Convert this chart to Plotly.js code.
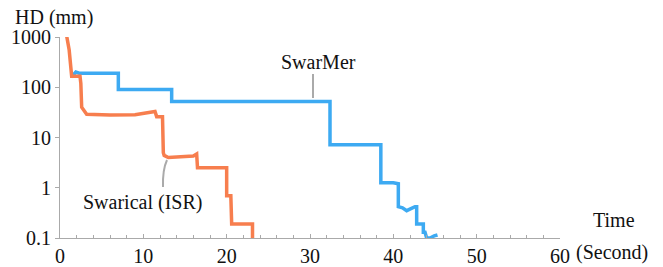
<!DOCTYPE html>
<html>
<head>
<meta charset="utf-8">
<script src="https://cdn.plot.ly/plotly-3.0.1.min.js"></script>
<style>
html,body{margin:0;padding:0;background:#fff;}
#chart{position:absolute;left:0;top:0;width:663px;height:267px;}
#ytitle{position:absolute;left:15px;top:6px;z-index:10;font-family:'Liberation Serif';font-size:20px;line-height:22px;color:#111;white-space:nowrap;}
</style>
</head>
<body>
<div id="chart"></div>
<div id="ytitle">HD (mm)</div>
<script>
// SwarMer (blue)
const swarmerTime = [1.4, 1.9, 2.3, 7.0, 7.0, 13.4, 13.4, 32.4, 32.4, 38.5, 38.5, 40.0, 40.6, 40.6, 41.1, 41.6, 42.6, 42.8, 42.8, 43.6, 43.6, 43.8, 44.0, 44.4, 44.9, 45.3];
const swarmerHD   = [160, 200, 190, 190, 90, 90, 52, 52, 7.2, 7.2, 1.26, 1.26, 1.2, 0.42, 0.40, 0.35, 0.42, 0.42, 0.19, 0.19, 0.13, 0.13, 0.1, 0.1, 0.11, 0.115];
// Swarical (ISR) (orange)
const swaricalTime = [0.8, 1.1, 1.4, 2.4, 2.5, 2.6, 3.2, 6.0, 9.0, 11.4, 11.6, 12.3, 12.4, 12.5, 13.0, 14.5, 16.0, 16.4, 16.5, 20.0, 20.0, 20.5, 20.6, 23.1, 23.1];
const swaricalHD   = [1050, 550, 166, 166, 120, 40, 29, 28, 28.5, 33, 26, 26, 5.0, 4.4, 4.0, 4.2, 4.3, 4.7, 2.5, 2.5, 0.69, 0.69, 0.19, 0.19, 0.1];
const yTickVals = [0.1, 1, 10, 100, 1000];
const yTickText = ['0.1', '1', '10', '100', '1000'];
const xTickVals = [0, 10, 20, 30, 40, 50, 60];

function serif() { return {family: 'Liberation Serif', size: 20, color: '#111'}; }

const traces = [
  {x: swarmerTime, y: swarmerHD, mode: 'lines', line: {color: '#3DAAF2', width: 3.5}, name: 'SwarMer'},
  {x: swaricalTime, y: swaricalHD, mode: 'lines', line: {color: '#F77E4E', width: 3.5}, name: 'Swarical (ISR)'}
];

const layout = {
  width: 663, height: 267,
  margin: {l: 60, r: 103, t: 37, b: 29},
  paper_bgcolor: 'rgba(0,0,0,0)', plot_bgcolor: 'rgba(0,0,0,0)',
  showlegend: false,
  font: serif(),
  xaxis: {
    range: [0, 60], showgrid: false, zeroline: false,
    showline: true, linecolor: '#aaa', linewidth: 1,
    tickvals: xTickVals, ticks: 'inside', ticklen: 4, tickcolor: '#aaa',
    minor: {dtick: 2, ticks: 'inside', ticklen: 3, tickcolor: '#aaa'},
    tickfont: serif()
  },
  yaxis: {
    type: 'log', range: [-1, 3], showgrid: false, zeroline: false,
    showline: true, linecolor: '#aaa', linewidth: 1,
    tickvals: yTickVals, ticktext: yTickText, ticks: 'outside', ticklen: 4, tickcolor: '#aaa',
    tickfont: serif()
  },
  annotations: [
    {xref: 'paper', yref: 'paper', x: 1.108, y: 0.09, xanchor: 'center', yanchor: 'middle', text: 'Time', showarrow: false, font: serif()},
    {xref: 'paper', yref: 'paper', x: 1.104, y: -0.07, xanchor: 'center', yanchor: 'middle', text: '(Second)', showarrow: false, font: serif()},
    {xref: 'paper', yref: 'paper', x: 0.516, y: 0.876, xanchor: 'center', yanchor: 'middle', text: 'SwarMer', showarrow: false, font: serif()},
    {xref: 'paper', yref: 'paper', x: 0.164, y: 0.179, xanchor: 'center', yanchor: 'middle', text: 'Swarical (ISR)', showarrow: false, font: serif()}
  ],
  shapes: [
    {type: 'line', xref: 'paper', yref: 'paper', x0: 0.506, x1: 0.506, y0: 0.816, y1: 0.697, line: {color: '#aaa', width: 2}},
    {type: 'path', xref: 'paper', yref: 'paper', path: 'M 0.206 0.254 Q 0.205 0.34 0.214 0.388', line: {color: '#aaa', width: 2}}
  ]
};

Plotly.newPlot('chart', traces, layout, {displayModeBar: false});
</script>
</body>
</html>
